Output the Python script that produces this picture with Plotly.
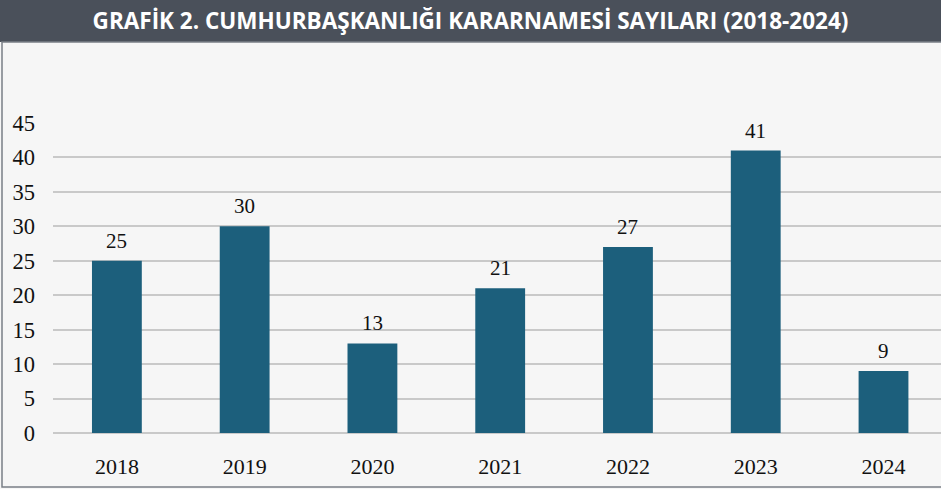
import plotly.graph_objects as go

years = ["2018", "2019", "2020", "2021", "2022", "2023", "2024"]
counts = [25, 30, 13, 21, 27, 41, 9]
y_ticks = [0, 5, 10, 15, 20, 25, 30, 35, 40, 45]

BAR = "#1c5f7c"
BAND = "#4a505a"
BG = "#f6f6f6"
GRID = "#c9c9c9"
SERIF = "Liberation Serif"

W, H = 941, 489
M_L, M_R, M_T, M_B = 53, 0, 123, 56
plot_h = H - M_T - M_B
plot_w = W - M_L - M_R

fig = go.Figure(
    go.Bar(
        x=years,
        y=counts,
        marker={"color": BAR, "line": {"width": 0}},
        width=0.39,
        hoverinfo="skip",
    )
)

for i, value in enumerate(counts):
    fig.add_annotation(
        x=i, y=value, yshift=20, showarrow=False,
        text=str(value), font={"family": SERIF, "size": 21, "color": "#111111"},
    )

# dark title band and outer frame, in paper units
band_bottom = 1 + (M_T - 42) / plot_h
fig.add_shape(
    type="rect", xref="paper", yref="paper",
    x0=-M_L / plot_w - 0.01, x1=1.01, y0=band_bottom, y1=1 + M_T / plot_h + 0.01,
    fillcolor=BAND, line={"width": 0}, layer="below",
)
fig.add_shape(
    type="rect", xref="paper", yref="paper",
    x0=-(M_L - 2) / plot_w, x1=1.01, y0=-(M_B - 2) / plot_h, y1=band_bottom,
    fillcolor="rgba(0,0,0,0)", line={"color": "#7a7f86", "width": 1.5}, layer="below",
)

fig.update_layout(
    title={
        "text": "<b>GRAFİK 2. CUMHURBAŞKANLIĞI KARARNAMESİ SAYILARI (2018-2024)</b>",
        "x": 0.5, "xanchor": "center", "xref": "container",
        "y": 1 - 21 / H, "yref": "container", "yanchor": "middle",
        "font": {"family": "Open Sans", "size": 22.5, "color": "white"},
    },
    paper_bgcolor=BG,
    plot_bgcolor=BG,
    width=W,
    height=H,
    margin={"l": M_L, "r": M_R, "t": M_T, "b": M_B},
    showlegend=False,
    font={"family": SERIF, "color": "#111111"},
)
fig.update_xaxes(
    type="category", range=[-0.5, 6.45], showgrid=False, showline=False, ticks="",
    tickfont={"family": SERIF, "size": 22}, ticklabelstandoff=18, fixedrange=True,
)
fig.update_yaxes(
    range=[0, 45], tickvals=y_ticks, showgrid=True, gridcolor=GRID, gridwidth=2,
    zeroline=True, zerolinecolor=GRID, zerolinewidth=2, showline=False, ticks="",
    tickfont={"family": SERIF, "size": 22.5}, ticklabelstandoff=17, fixedrange=True,
)

fig.write_html(
    "out.html",
    config={"displayModeBar": False},
    post_script="document.body.style.margin='0';",
)
